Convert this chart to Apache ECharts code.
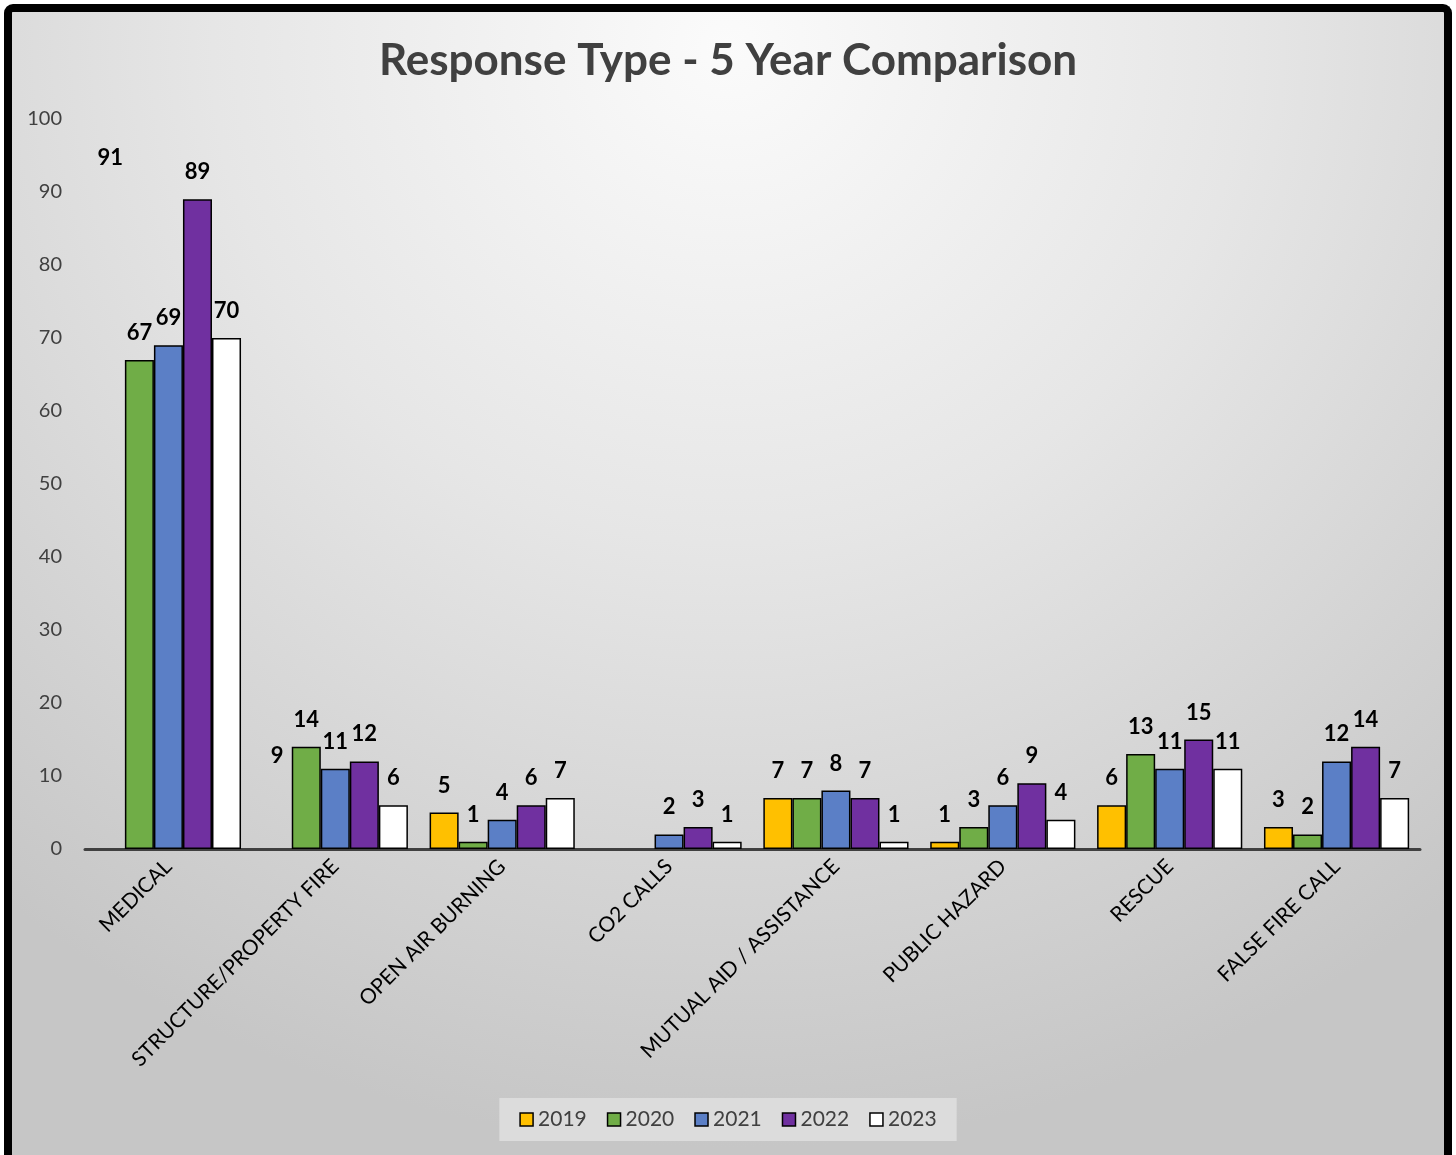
<!DOCTYPE html>
<html>
<head>
<meta charset="utf-8">
<script src="https://cdn.jsdelivr.net/npm/echarts@6/dist/echarts.min.js"></script>
<style>
  html, body { margin: 0; padding: 0; background: #ffffff; }
  #frame {
    position: absolute; left: 4px; top: 4px; width: 1432px; height: 1160px;
    border: 8px solid #000; border-bottom: none; border-radius: 9px 9px 0 0;
    background: radial-gradient(ellipse 80% 95% at 50% 3%, #fbfbfb 0%, #e6e6e6 45%, #c6c6c6 100%);
  }
  #chart { position: absolute; left: 0; top: 0; width: 1456px; height: 1155px; }
</style>
</head>
<body>
<div id="frame"></div>
<div id="chart"></div>
<script>
const categories = ['MEDICAL', 'STRUCTURE/PROPERTY FIRE', 'OPEN AIR BURNING', 'CO2 CALLS',
  'MUTUAL AID / ASSISTANCE', 'PUBLIC HAZARD', 'RESCUE', 'FALSE FIRE CALL'];
const years = ['2019', '2020', '2021', '2022', '2023'];
const values2019 = [91, 9, 5, null, 7, 1, 6, 3];
const values2020 = [67, 14, 1, null, 7, 3, 13, 2];
const values2021 = [69, 11, 4, 2, 8, 6, 11, 12];
const values2022 = [89, 12, 6, 3, 7, 9, 15, 14];
const values2023 = [70, 6, 7, 1, 1, 4, 11, 7];
// 2019 entries whose bar is left unfilled (only the value label shows)
const hidden2019 = ['MEDICAL', 'STRUCTURE/PROPERTY FIRE'];
const yTicks = [0, 10, 20, 30, 40, 50, 60, 70, 80, 90, 100];

const colors = ['#ffc000', '#70ad47', '#5b7fc6', '#7030a0', '#ffffff'];
const seriesValues = [values2019, values2020, values2021, values2022, values2023];

const chart = echarts.init(document.getElementById('chart'), null, { renderer: 'canvas' });

const series = years.map((y, i) => ({
  name: y,
  type: 'bar',
  barGap: '0%',
  barCategoryGap: '13%',
  data: seriesValues[i].map((v, j) => {
    if (i === 0 && hidden2019.includes(categories[j])) {
      return { value: v, itemStyle: { color: 'rgba(0,0,0,0)', borderWidth: 0 } };
    }
    return v;
  }),
  itemStyle: { color: colors[i], borderColor: '#000', borderWidth: 1.5 },
  label: {
    show: true, position: 'top', distance: 16,
    fontFamily: 'Lato', fontWeight: 'bold', fontSize: 22, color: '#000'
  }
}));

chart.setOption({
  animation: false,
  backgroundColor: 'transparent',
  title: {
    text: 'Response Type - 5 Year Comparison',
    left: 'center', top: 34,
    textStyle: { fontFamily: 'Lato', fontWeight: 'bold', fontSize: 44, color: '#404040' }
  },
  legend: {
    bottom: 14, left: 'center',
    data: years,
    backgroundColor: '#dcdcdc',
    padding: [11, 20, 11, 20],
    itemWidth: 13, itemHeight: 13, itemGap: 20,
    icon: 'rect',
    itemStyle: { borderColor: '#000', borderWidth: 1.5 },
    textStyle: { fontFamily: 'Lato', fontSize: 21, color: '#404040' }
  },
  grid: { left: 85, right: 36, top: 119, bottom: 306, containLabel: false },
  xAxis: {
    type: 'category',
    data: categories,
    axisLine: { show: true, lineStyle: { color: '#404040', width: 3 } },
    axisTick: { show: false },
    axisLabel: {
      rotate: 45, interval: 0, margin: 14,
      fontFamily: 'Lato', fontSize: 21, color: '#000'
    }
  },
  yAxis: {
    type: 'value',
    min: yTicks[0], max: yTicks[yTicks.length - 1], interval: 10,
    splitLine: { show: false },
    axisLine: { show: false },
    axisTick: { show: false },
    axisLabel: { margin: 23, fontFamily: 'Lato', fontSize: 20, color: '#404040' }
  },
  series: series
});
</script>
</body>
</html>
